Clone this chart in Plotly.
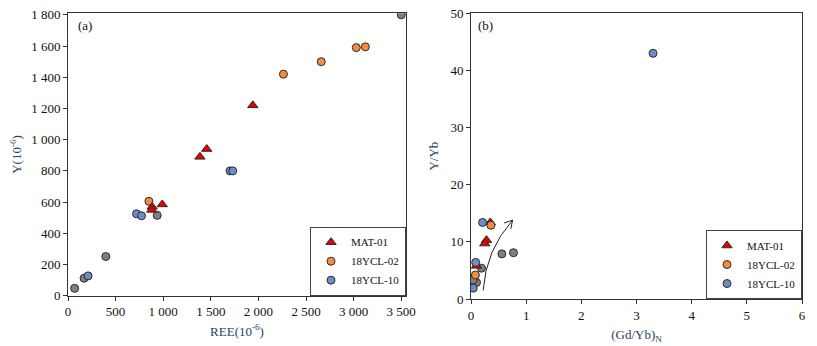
import plotly.graph_objects as go
from plotly.subplots import make_subplots

# (a) REE vs Y
a_gray_x = [3500, 70, 169, 397, 937]
a_gray_y = [1800, 47, 112, 251, 515]
a_mat_x = [1941, 1386, 1457, 990, 884, 880]
a_mat_y = [1220, 890, 940, 585, 570, 550]
a_ycl02_x = [850, 2263, 2660, 3028, 3123]
a_ycl02_y = [605, 1420, 1500, 1590, 1595]
a_ycl10_x = [211, 720, 772, 1702, 1730]
a_ycl10_y = [127, 525, 512, 800, 800]

# (b) (Gd/Yb)N vs Y/Yb
b_gray_x = [0.56, 0.77, 0.19, 0.10, 0.04]
b_gray_y = [7.9, 8.1, 5.4, 2.9, 3.3]
b_mat_x = [0.35, 0.28, 0.25, 0.10]
b_mat_y = [13.4, 10.3, 9.7, 5.8]
b_ycl02_x = [0.36, 0.08]
b_ycl02_y = [12.9, 4.2]
b_ycl10_x = [3.30, 0.21, 0.085, 0.04]
b_ycl10_y = [43.0, 13.4, 6.4, 1.9]

GRAY = '#7f7f7f'
RED = '#e60000'
ORANGE = '#f28c40'
BLUE = '#6b8ecb'
EDGE = dict(color='#2b2b2b', width=1)
FONT = 'Liberation Serif'
RANK = {'MAT-01': 1, '18YCL-02': 2, '18YCL-10': 3, '': 4}

W, H, OFF = 817, 346, 8  # page body has an 8px margin


def fx(px):
    return (px - OFF) / W


def fy(py):
    return 1 - (py - OFF) / H


fig = make_subplots(rows=1, cols=2)


def add(x, y, color, name, col, symbol='circle', show=True, legend='legend'):
    fig.add_trace(go.Scatter(
        x=x, y=y, mode='markers', name=name,
        marker=dict(size=8 if symbol == 'circle' else 9, color=color,
                    symbol=symbol, line=EDGE),
        showlegend=show, legend=legend, legendrank=RANK[name]
    ), row=1, col=col)


add(a_gray_x, a_gray_y, GRAY, '', 1, show=False)
add(a_ycl10_x, a_ycl10_y, BLUE, '18YCL-10', 1)
add(a_ycl02_x, a_ycl02_y, ORANGE, '18YCL-02', 1)
add(a_mat_x, a_mat_y, RED, 'MAT-01', 1, symbol='triangle-up')

add(b_gray_x, b_gray_y, GRAY, '', 2, show=False, legend='legend2')
add(b_mat_x, b_mat_y, RED, 'MAT-01', 2, symbol='triangle-up', legend='legend2')
add(b_ycl10_x, b_ycl10_y, BLUE, '18YCL-10', 2, legend='legend2')
add(b_ycl02_x, b_ycl02_y, ORANGE, '18YCL-02', 2, legend='legend2')

axis_style = dict(showgrid=False, zeroline=False, showline=True, linecolor='#333',
                  linewidth=1, mirror=True, ticks='outside', ticklen=4,
                  tickcolor='#333', tickfont=dict(family=FONT, size=13, color='#111'),
                  separatethousands=True, automargin=False, ticklabeloverflow='allow')

fig.update_xaxes(axis_style)
fig.update_yaxes(axis_style)

fig.update_xaxes(range=[0, 3550], dtick=500, domain=[fx(68), fx(406)],
                 title=dict(text='REE(10<sup>-6</sup>)', font=dict(family=FONT, size=13),
                            standoff=8), row=1, col=1)
fig.update_yaxes(range=[0, 1810], dtick=200, domain=[fy(295.7), fy(13.3)],
                 title=dict(text='Y(10<sup>-6</sup>)', font=dict(family=FONT, size=13),
                            standoff=8), row=1, col=1)
fig.update_xaxes(range=[0, 6], dtick=1, domain=[fx(471), fx(802)],
                 title=dict(text='(Gd/Yb)<sub>N</sub>', font=dict(family=FONT, size=13),
                            standoff=8), row=1, col=2)
fig.update_yaxes(range=[0, 50], dtick=10, domain=[fy(299), fy(13.3)],
                 title=dict(text='Y/Yb', font=dict(family=FONT, size=13),
                            standoff=8), row=1, col=2)

legend_style = dict(bgcolor='white', bordercolor='#444', borderwidth=1,
                    font=dict(family=FONT, size=11, color='#111'),
                    xanchor='right', yanchor='bottom', traceorder='normal',
                    itemsizing='trace', itemwidth=30, tracegroupgap=0)
fig.update_layout(
    width=W, height=H,
    margin=dict(l=0, r=0, t=0, b=0),
    plot_bgcolor='white', paper_bgcolor='white',
    separators='. ',
    legend=dict(legend_style, x=fx(406), y=fy(295.7)),
    legend2=dict(legend_style, x=fx(802), y=fy(299)),
)

fig.add_annotation(text='(a)', x=fx(76), y=fy(16), xref='paper', yref='paper',
                   xanchor='left', yanchor='top', showarrow=False,
                   font=dict(family=FONT, size=13, color='#111'))
fig.add_annotation(text='(b)', x=fx(476), y=fy(16), xref='paper', yref='paper',
                   xanchor='left', yanchor='top', showarrow=False,
                   font=dict(family=FONT, size=13, color='#111'))

# curved trend arrow in (b)
fig.add_shape(type='path', xref='x2', yref='y2',
              path='M 0.22,1.5 Q 0.27,8.6 0.755,13.8 M 0.721,12.26 L 0.755,13.8 L 0.60,13.31',
              line=dict(color='#222', width=1))

fig.write_html("out.html")
